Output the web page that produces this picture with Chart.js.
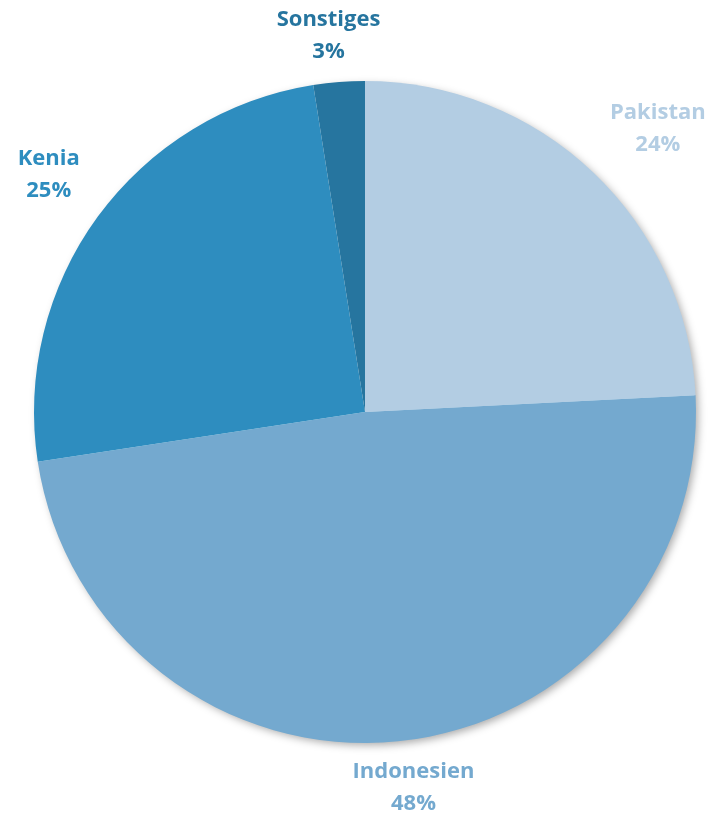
<!DOCTYPE html>
<html>
<head>
<meta charset="utf-8">
<script src="https://cdn.jsdelivr.net/npm/chart.js@4/dist/chart.umd.min.js"></script>
<style>
  html, body { margin: 0; padding: 0; background: #fff; }
  #wrap { width: 713px; height: 818px; }
</style>
</head>
<body>
<div id="wrap"><canvas id="pieChart"></canvas></div>
<script>
// Daten
const laender = ['Pakistan', 'Indonesien', 'Kenia', 'Sonstiges'];
const anteile = [24.2, 48.4, 24.9, 2.5];
const prozentText = ['24%', '48%', '25%', '3%'];
const farben = ['#b3cde3', '#74a9cf', '#2e8dbf', '#26759f'];

// Schatten unter dem Kreis
const schattenPlugin = {
    id: 'schatten',
    beforeDatasetsDraw(chart) {
        const arc = chart.getDatasetMeta(0).data[0];
        if (!arc) return;
        const ctx = chart.ctx;
        ctx.save();
        ctx.shadowColor = 'rgba(0,0,0,0.35)';
        ctx.shadowBlur = 9;
        ctx.shadowOffsetX = 3;
        ctx.shadowOffsetY = 3;
        ctx.fillStyle = '#ffffff';
        ctx.beginPath();
        ctx.arc(arc.x, arc.y, arc.outerRadius - 1, 0, Math.PI * 2);
        ctx.fill();
        ctx.restore();
    }
};

const clamp = v => Math.max(-1, Math.min(1, v));

// Beschriftungen außerhalb der Segmente (Textbox berührt den Ankerpunkt)
const labelPlugin = {
    id: 'aussenLabels',
    afterDatasetsDraw(chart) {
        const ctx = chart.ctx;
        const meta = chart.getDatasetMeta(0);
        ctx.save();
        ctx.font = 'bold 22px "Open Sans", sans-serif';
        ctx.textAlign = 'center';
        ctx.textBaseline = 'middle';
        const zeilenAbstand = 32;
        meta.data.forEach((arc, i) => {
            const mid = (arc.startAngle + arc.endAngle) / 2;
            const ux = Math.cos(mid), uy = Math.sin(mid);
            const w = Math.max(ctx.measureText(laender[i]).width, ctx.measureText(prozentText[i]).width) + 20;
            const h = zeilenAbstand * 2 + 8;
            const ax = arc.x + ux * (arc.outerRadius + 10);
            const ay = arc.y + uy * (arc.outerRadius + 10);
            const x = ax + clamp(ux * 2) * w / 2;
            const y = ay + clamp(uy * 2) * h / 2;
            ctx.fillStyle = farben[i];
            ctx.fillText(laender[i], x, y - zeilenAbstand / 2);
            ctx.fillText(prozentText[i], x, y + zeilenAbstand / 2);
        });
        ctx.restore();
    }
};

new Chart(document.getElementById('pieChart').getContext('2d'), {
    type: 'pie',
    data: {
        labels: laender,
        datasets: [{
            data: anteile,
            backgroundColor: farben,
            borderWidth: 0,
            hoverOffset: 0
        }]
    },
    options: {
        responsive: true,
        maintainAspectRatio: false,
        animation: false,
        layout: {
            padding: { top: 81, bottom: 75, left: 34, right: 17 }
        },
        plugins: {
            legend: { display: false },
            tooltip: { enabled: false }
        }
    },
    plugins: [schattenPlugin, labelPlugin]
});
</script>
</body>
</html>
